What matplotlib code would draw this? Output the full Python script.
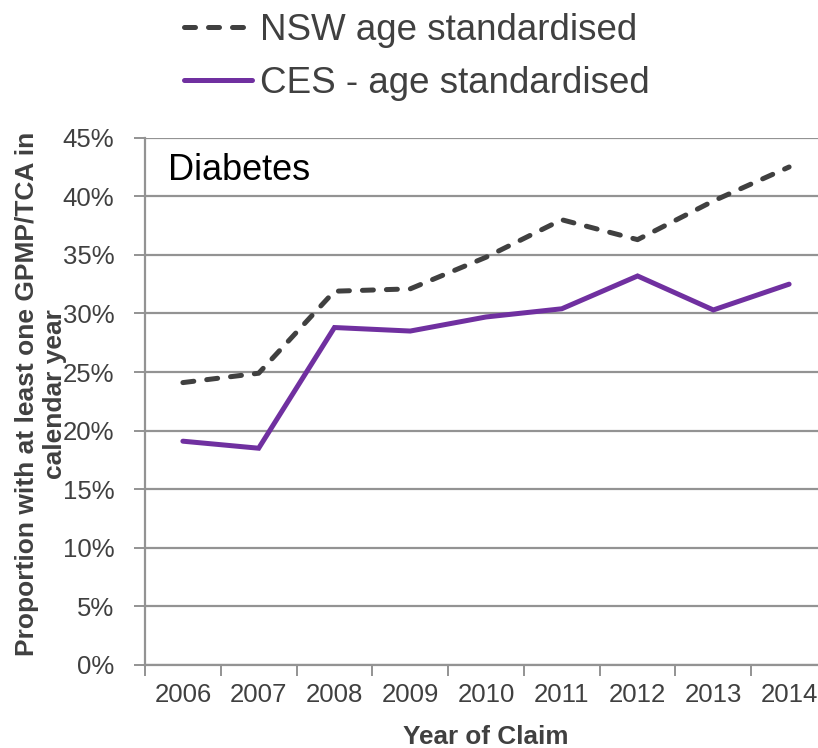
import matplotlib
matplotlib.use("Agg")
import matplotlib.pyplot as plt
from matplotlib.ticker import FixedLocator, PercentFormatter

plt.rcParams['font.family'] = ['Liberation Sans', 'DejaVu Sans']

years = ['2006', '2007', '2008', '2009', '2010', '2011', '2012', '2013', '2014']
nsw = [24.1, 24.9, 31.9, 32.1, 34.8, 38.0, 36.3, 39.6, 42.5]
ces = [19.1, 18.5, 28.8, 28.5, 29.7, 30.4, 33.2, 30.3, 32.5]
series_labels = ['NSW age standardised', 'CES - age standardised']
panel_title = 'Diabetes'
y_ticks = [0, 5, 10, 15, 20, 25, 30, 35, 40, 45]

W, H = 818, 748
fig = plt.figure(figsize=(W / 100, H / 100), dpi=100)
ax = fig.add_axes([145 / W, (H - 665) / H, (827 - 145) / W, (665 - 137.7) / H])

x = list(range(len(years)))
grid_c = '#939393'
text_c = '#404040'

l1, = ax.plot(x, nsw, color='#404040', lw=3.6, linestyle=(0, (2.2, 2.6)),
              dash_capstyle='round', solid_capstyle='round', label=series_labels[0])
l2, = ax.plot(x, ces, color='#7030A0', lw=3.6, solid_capstyle='round',
              solid_joinstyle='miter', label=series_labels[1])

ax.set_xlim(-0.5, len(years) - 0.5)
ax.set_ylim(0, 45)
ax.set_yticks(y_ticks)
ax.yaxis.set_major_formatter(PercentFormatter(decimals=0))
ax.yaxis.grid(True, color=grid_c, lw=1.6)
ax.set_axisbelow(True)

ax.set_xticks(x)
ax.set_xticklabels(years)
ax.xaxis.set_minor_locator(FixedLocator([i - 0.5 for i in range(len(years) + 1)]))
ax.tick_params(axis='x', which='major', length=0, pad=13, labelsize=18.5, labelcolor=text_c)
ax.tick_params(axis='x', which='minor', length=8, width=1.4, color=grid_c, direction='out')
ax.tick_params(axis='y', length=8, width=1.4, color=grid_c, pad=14, labelsize=18.5, labelcolor=text_c)

for s in ['top', 'right']:
    ax.spines[s].set_visible(False)
for s in ['left', 'bottom']:
    ax.spines[s].set_color(grid_c)
    ax.spines[s].set_linewidth(1.6)

ax.set_xlabel('Year of Claim', fontsize=18.8, fontweight='bold', color=text_c, labelpad=13)
ax.set_ylabel('Proportion with at least one GPMP/TCA in\ncalendar year', fontsize=19,
              fontweight='bold', color=text_c, linespacing=1.2)
ax.yaxis.set_label_coords(-0.115, 0.514)

ax.text(0.033, 0.92, panel_title, transform=ax.transAxes, fontsize=26, color='black',
        va='baseline', ha='left')

fig.legend(handles=[l1, l2], loc='center', bbox_to_anchor=(417 / W, 1 - 57 / H),
           frameon=False, fontsize=26.5, labelcolor=text_c, handlelength=1.85,
           handletextpad=0.2, labelspacing=0.49, borderpad=0)

fig.savefig('out.png', dpi=100)
